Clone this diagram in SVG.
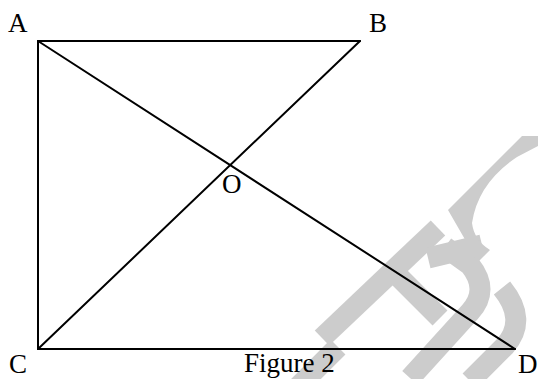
<svg xmlns="http://www.w3.org/2000/svg" width="538" height="379" viewBox="0 0 538 379">
<style>
.wm{fill:none;stroke:#cccccc;stroke-width:21;stroke-linecap:butt}
.wmf{fill:#cccccc;stroke:none}
.edge{stroke:#000;stroke-width:2;fill:none;stroke-linecap:round}
.lbl{font-family:"Liberation Serif","DejaVu Serif",serif;font-size:27px;fill:#000}
</style>
<rect width="538" height="379" fill="#fff"/>
<g id="watermark">
<path class="wm" d="M298,387 L338,347"/>
<path class="wm" d="M322,338 L438,228"/>
<path class="wm" d="M388,266 L440,318"/>
<path class="wm" d="M410,378 L470,312 Q490,290 470,265 L445,247"/>
<path class="wm" d="M428,258 L482,245"/>
<path class="wmf" d="M448,210 L522,136 L538,136 L538,146 L517,157 Q478,183 472,223 Q474,240 490,250 L478,262 Z"/>
<path class="wm" d="M470,381 L505,346 Q528,320 502,288"/>
</g>
<g id="connectors">
<line class="edge" x1="38" y1="41" x2="360" y2="41"/>
<line class="edge" x1="38" y1="41" x2="38" y2="349"/>
<line class="edge" x1="38" y1="349" x2="515" y2="349"/>
<line class="edge" x1="38" y1="41" x2="515" y2="349"/>
<line class="edge" x1="38" y1="349" x2="360" y2="41"/>
</g>
<g id="A"><text class="lbl" x="8" y="32">A</text></g>
<g id="B"><text class="lbl" x="369" y="32">B</text></g>
<g id="O"><text class="lbl" x="222" y="193">O</text></g>
<g id="C"><text class="lbl" x="9" y="373">C</text></g>
<g id="D"><text class="lbl" x="518" y="373">D</text></g>
<g id="caption"><text class="lbl" x="244" y="372">Figure 2</text></g>
</svg>
